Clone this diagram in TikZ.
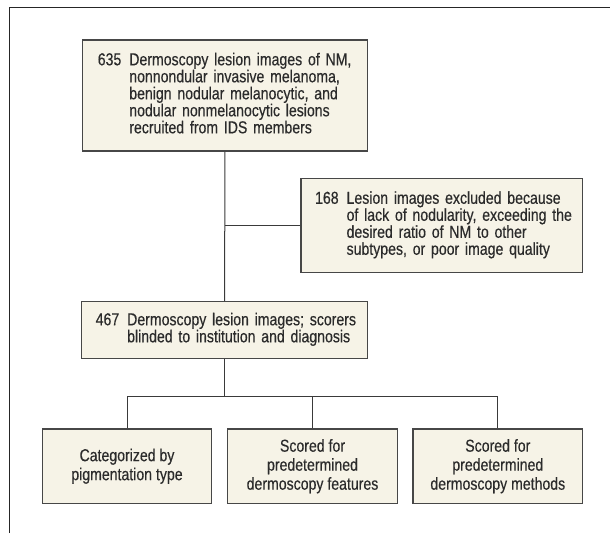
\documentclass[tikz,border=0pt]{standalone}
\usepackage{fontspec}
\setmainfont{Liberation Sans}[FakeStretch=0.815,FakeBold=0.35]
\definecolor{boxfill}{HTML}{F6F3E7}
\definecolor{boxline}{HTML}{474747}
\definecolor{txt}{HTML}{2B2B2B}
\definecolor{conn}{HTML}{3A3A3A}
\newcommand{\numrow}[2]{\begin{tabular}{@{}p{31.5pt}@{}l@{}}#1 & #2\end{tabular}}
\tikzset{
  flowbox/.style={draw=boxline, line width=1.3pt, fill=boxfill, rectangle, text=txt,
    font=\fontsize{17.3}{19}\selectfont, inner sep=0pt},
  numbox/.style={flowbox, align=left},
  endbox/.style={flowbox, align=center, minimum width=169.5pt, minimum height=74.3pt},
  link/.style={draw=conn, line width=1pt},
  framebar/.style={draw=black!85, line width=1.6pt}
}
\begin{document}
\begin{tikzpicture}[x=1pt,y=-1pt]
\useasboundingbox (0,0) rectangle (610,533);
% frame
\coordinate (fb) at (9.5,533);
\coordinate (fc) at (9.5,7.5);
\coordinate (fr) at (610,7.5);
\draw[framebar] (fb) -- (fc) -- (fr);

% boxes
\node[numbox, minimum width=285pt, minimum height=111pt, text width=254pt] (b1) at (224.8,95.5)
 {\numrow{635}{Dermoscopy lesion images of NM,}\\[-2pt]
  \numrow{}{nonnondular invasive melanoma,}\\[-2pt]
  \numrow{}{benign nodular melanocytic, and}\\[-2pt]
  \numrow{}{nodular nonmelanocytic lesions}\\[-2pt]
  \numrow{}{recruited from IDS members}};

\node[numbox, minimum width=281.3pt, minimum height=94.4pt, text width=253pt] (b2) at (441.6,225.5)
 {\numrow{168}{Lesion images excluded because}\\[-2pt]
  \numrow{}{of lack of nodularity, exceeding the}\\[-2pt]
  \numrow{}{desired ratio of NM to other}\\[-2pt]
  \numrow{}{subtypes, or poor image quality}};

\node[numbox, minimum width=286pt, minimum height=56.6pt, text width=258pt] (b3) at (224.7,330)
 {\numrow{467}{Dermoscopy lesion images; scorers}\\[-2pt]
  \numrow{}{blinded to institution and diagnosis}};

\node[endbox] (bA) at (127,466.2) {Categorized by\\pigmentation type};
\node[endbox] (bB) at (312.5,466.2) {Scored for\\predetermined\\dermoscopy features};
\node[endbox] (bC) at (497.8,466.2) {Scored for\\predetermined\\dermoscopy methods};

% connectors
\draw[link] (b1.south) -- (b3.north);
\draw[link] (b2.west) -- (b2.west -| b1.south);
\coordinate (j) at (224.7,396);
\draw[link] (b3.south) -- (j);
\draw[link] (bA.north) -- (bA.north |- j) -- (bC.north |- j) -- (bC.north);
\draw[link] (bB.north) -- (bB.north |- j);
\end{tikzpicture}
\end{document}
